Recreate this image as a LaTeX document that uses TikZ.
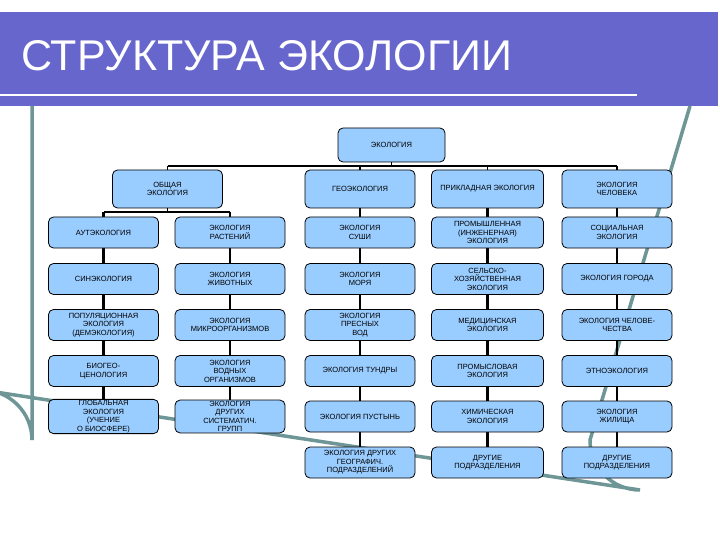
\documentclass[tikz,border=0pt]{standalone}
\usepackage{fontspec}
\setmainfont{Liberation Sans}
\definecolor{boxfill}{RGB}{153,204,255}
\definecolor{band}{RGB}{102,102,204}
\definecolor{framec}{RGB}{110,150,150}
\begin{document}
\begin{tikzpicture}[x=1pt,y=-1pt,
  bx/.style={draw=black,line width=0.8pt,fill=boxfill,rounded corners=5pt,
    minimum width=110pt,minimum height=31pt,align=center,inner sep=1pt,
    font=\fontsize{7.5}{8.5}\selectfont},
  ln/.style={line width=2.4pt,black},
  bus/.style={line width=1.6pt,black}]
\useasboundingbox (0,0) rectangle (720,540);
\fill[white] (0,0) rectangle (720,540);
% title band
\fill[band] (0,12) rectangle (718,106);
\draw[white,line width=2.5pt] (0,95) -- (637,95);
\node[anchor=west,text=white,font=\fontsize{43}{43}\selectfont,inner sep=0] (title) at (21,56) {СТРУКТУРА ЭКОЛОГИИ};
% frame
\draw[framec,line width=3.5pt]
  (32,106) -- (32,440) arc[start angle=180,end angle=90,radius=-50] -- (640,490)
  arc[start angle=270,end angle=360,radius=-50] -- (690,106);
% nodes
\node[bx,minimum width=107pt,minimum height=34pt] (root) at (391.5,145) {ЭКОЛОГИЯ};
\node[bx,minimum height=38pt] (g1) at (167.5,189) {ОБЩАЯ\\ЭКОЛОГИЯ};
\node[bx,minimum height=38pt] (g3) at (360,189) {ГЕОЭКОЛОГИЯ};
\node[bx,minimum height=38pt,minimum width=112pt] (g4) at (487.5,189) {ПРИКЛАДНАЯ ЭКОЛОГИЯ};
\node[bx,minimum height=38pt] (g5) at (617,189) {ЭКОЛОГИЯ\\ЧЕЛОВЕКА};
% connectors
\coordinate (busL) at (167.5,166);
\coordinate (busR) at (617,166);
\coordinate (sbL) at (103.5,212);
\coordinate (sbR) at (230,212);
\draw[bus] (root.south) -- (391.5,166);
\draw[bus] (busL) -- (busR);
\draw[bus] (busL) -- (g1.north);
\draw[bus] (360,166) -- (g3.north);
\draw[bus] (487.5,166) -- (g4.north);
\draw[bus] (busR) -- (g5.north);
\draw[bus] (g1.south) -- (167.5,212);
\draw[bus] (sbL) -- (sbR);
\draw[ln] (sbL) -- (103.5,416.5);
\draw[ln] (sbR) -- (230,416.5);
\draw[ln] (g3.south) -- (360,462.5);
\draw[ln] (g4.south) -- (487.5,462.5);
\draw[ln] (g5.south) -- (617,462.5);
% column 1
\node[bx] (a1) at (103.5,232.5) {АУТЭКОЛОГИЯ};
\node[bx] (a2) at (103.5,279) {СИНЭКОЛОГИЯ};
\node[bx] (a3) at (103.5,325) {ПОПУЛЯЦИОННАЯ\\ЭКОЛОГИЯ\\(ДЕМЭКОЛОГИЯ)};
\node[bx] (a4) at (103.5,371) {БИОГЕО-\\ЦЕНОЛОГИЯ};
\node[bx] (a5) at (103.5,416.5) {ГЛОБАЛЬНАЯ\\ЭКОЛОГИЯ\\(УЧЕНИЕ\\О БИОСФЕРЕ)};
% column 2
\node[bx] (b1) at (230,232.5) {ЭКОЛОГИЯ\\РАСТЕНИЙ};
\node[bx] (b2) at (230,279) {ЭКОЛОГИЯ\\ЖИВОТНЫХ};
\node[bx] (b3) at (230,325) {ЭКОЛОГИЯ\\МИКРООРГАНИЗМОВ};
\node[bx] (b4) at (230,371) {ЭКОЛОГИЯ\\ВОДНЫХ\\ОРГАНИЗМОВ};
\node[bx] (b5) at (230,416.5) {ЭКОЛОГИЯ\\ДРУГИХ\\СИСТЕМАТИЧ.\\ГРУПП};
% column 3
\node[bx] (c1) at (360,232.5) {ЭКОЛОГИЯ\\СУШИ};
\node[bx] (c2) at (360,279) {ЭКОЛОГИЯ\\МОРЯ};
\node[bx] (c3) at (360,325) {ЭКОЛОГИЯ\\ПРЕСНЫХ\\ВОД};
\node[bx] (c4) at (360,371) {ЭКОЛОГИЯ ТУНДРЫ};
\node[bx] (c5) at (360,416.5) {ЭКОЛОГИЯ ПУСТЫНЬ};
\node[bx] (c6) at (360,462.5) {ЭКОЛОГИЯ ДРУГИХ\\ГЕОГРАФИЧ.\\ПОДРАЗДЕЛЕНИЙ};
% column 4
\node[bx,minimum width=112pt] (d1) at (487.5,232.5) {ПРОМЫШЛЕННАЯ\\(ИНЖЕНЕРНАЯ)\\ЭКОЛОГИЯ};
\node[bx,minimum width=112pt] (d2) at (487.5,279) {СЕЛЬСКО-\\ХОЗЯЙСТВЕННАЯ\\ЭКОЛОГИЯ};
\node[bx,minimum width=112pt] (d3) at (487.5,325) {МЕДИЦИНСКАЯ\\ЭКОЛОГИЯ};
\node[bx,minimum width=112pt] (d4) at (487.5,371) {ПРОМЫСЛОВАЯ\\ЭКОЛОГИЯ};
\node[bx,minimum width=112pt] (d5) at (487.5,416.5) {ХИМИЧЕСКАЯ\\ЭКОЛОГИЯ};
\node[bx,minimum width=112pt] (d6) at (487.5,462.5) {ДРУГИЕ\\ПОДРАЗДЕЛЕНИЯ};
% column 5
\node[bx] (e1) at (617,232.5) {СОЦИАЛЬНАЯ\\ЭКОЛОГИЯ};
\node[bx] (e2) at (617,279) {ЭКОЛОГИЯ ГОРОДА};
\node[bx] (e3) at (617,325) {ЭКОЛОГИЯ ЧЕЛОВЕ-\\ЧЕСТВА};
\node[bx] (e4) at (617,371) {ЭТНОЭКОЛОГИЯ};
\node[bx] (e5) at (617,416.5) {ЭКОЛОГИЯ\\ЖИЛИЩА};
\node[bx] (e6) at (617,462.5) {ДРУГИЕ\\ПОДРАЗДЕЛЕНИЯ};
\end{tikzpicture}
\end{document}
